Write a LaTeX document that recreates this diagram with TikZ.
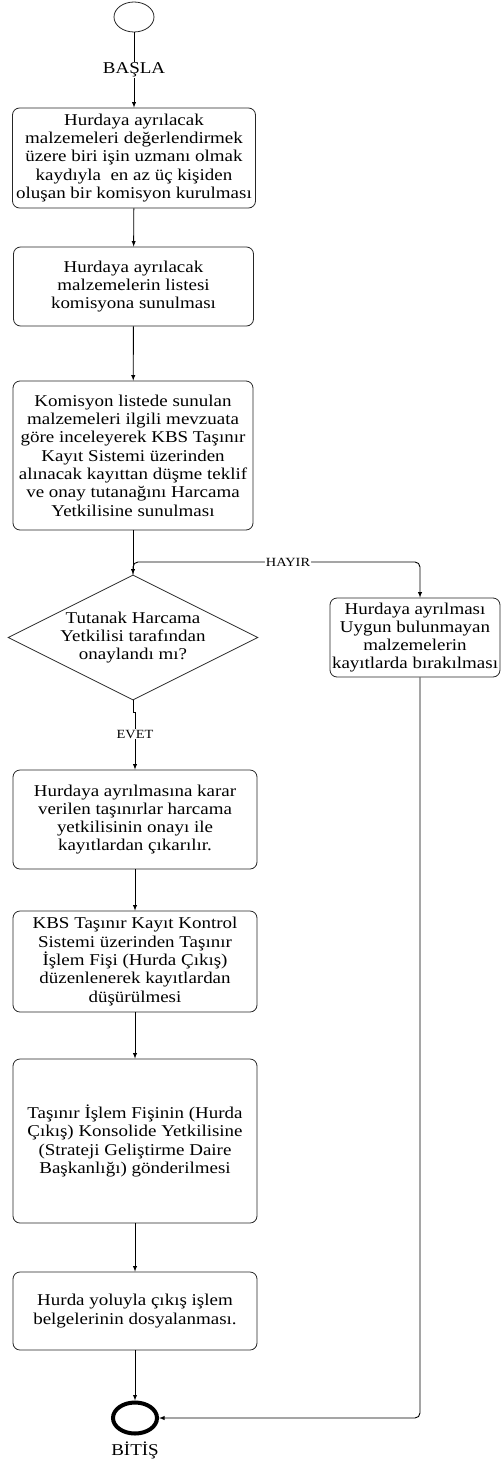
\documentclass[tikz,border=0pt]{standalone}
\usepackage{fontspec}
\setmainfont{Liberation Serif}[FakeStretch=1.15]
\usetikzlibrary{positioning,shapes,arrows}

\begin{document}
\begin{tikzpicture}[x=1pt,y=1pt,auto]
    \tikzstyle{every node}=[font=\fontsize{16.5}{18.3}\selectfont,inner sep=0]
    \tikzstyle{islem}=[draw=black!85,line width=0.8,rounded corners=7,align=center,fill=white]
    \tikzstyle{karar}=[draw=black!85,line width=0.8,diamond,aspect=2,align=center,minimum width=250,minimum height=125]
    \tikzstyle{etiket}=[fill=white,inner sep=1,auto=false]
    \tikzstyle{kucuk}=[etiket,font=\fontsize{12.5}{14}\selectfont]
    \tikzstyle{ok}=[draw=black,line width=0.9,-latex]
    \useasboundingbox (0,0) rectangle (502,-1461);
    {
        % baslangic
        \node[ellipse,draw=black!85,line width=0.8,minimum width=40,minimum height=30] (basla) at (134,-17) {};
        \node[islem,minimum width=243,minimum height=100] (k1) at (134,-158)
            {Hurdaya ayrılacak\\malzemeleri değerlendirmek\\üzere biri işin uzmanı olmak\\kaydıyla\ \ en az üç kişiden\\oluşan bir komisyon kurulması};
        \node[islem,minimum width=240,minimum height=79] (k2) at (133.5,-286.5)
            {Hurdaya ayrılacak\\malzemelerin listesi\\komisyona sunulması};
        \node[islem,minimum width=240,minimum height=149] (k3) at (133,-455.5)
            {Komisyon listede sunulan\\malzemeleri ilgili mevzuata\\göre inceleyerek KBS Taşınır\\Kayıt Sistemi üzerinden\\alınacak kayıttan düşme teklif\\ve onay tutanağını Harcama\\Yetkilisine sunulması};
        \node[karar] (karar) at (133,-637.5)
            {Tutanak Harcama\\Yetkilisi tarafından\\onaylandı mı?};
        \node[islem,minimum width=170,minimum height=79] (red) at (415,-637.5)
            {Hurdaya ayrılması\\Uygun bulunmayan\\malzemelerin\\kayıtlarda bırakılması};
        \node[islem,minimum width=244,minimum height=99] (k4) at (135,-819.5)
            {Hurdaya ayrılmasına karar\\verilen taşınırlar harcama\\yetkilisinin onayı ile\\kayıtlardan çıkarılır.};
        \node[islem,minimum width=244,minimum height=101] (k5) at (135,-961.5)
            {KBS Taşınır Kayıt Kontrol\\Sistemi üzerinden Taşınır\\İşlem Fişi (Hurda Çıkış)\\düzenlenerek kayıtlardan\\düşürülmesi};
        \node[islem,minimum width=244,minimum height=164] (k6) at (135,-1141)
            {Taşınır İşlem Fişinin (Hurda\\Çıkış) Konsolide Yetkilisine\\(Strateji Geliştirme Daire\\Başkanlığı) gönderilmesi};
        \node[islem,minimum width=244,minimum height=78] (k7) at (135,-1311)
            {Hurda yoluyla çıkış işlem\\belgelerinin dosyalanması.};
        % bitis
        \node[ellipse,draw=black,line width=4,minimum width=44,minimum height=31] (bitis) at (135,-1418) {};
        \node (bitisyazi) at (135,-1450) {BİTİŞ};
        \coordinate (ayrim) at (133,-562);

        \draw[ok] (basla) -- (k1) node[etiket,midway] {BAŞLA};
        \draw[ok] (k1) -- (k2);
        \draw[ok] (k2) -- (k3);
        \draw[ok] (k3.south) -- (karar.north);
        \draw[ok,rounded corners=5] (karar.north) -- (ayrim) -| ([xshift=5]red.north)
            node[kucuk,pos=0.27] {HAYIR};
        \draw[ok] (karar.south) -- ++(0,-12) -| (k4.north)
            node[kucuk,pos=0.69] {EVET};
        \draw[ok] (k4) -- (k5);
        \draw[ok] (k5) -- (k6);
        \draw[ok] (k6) -- (k7);
        \draw[ok] (k7) -- (bitis);
        \draw[ok,rounded corners=5] ([xshift=5]red.south) |- (bitis.east);
    }
\end{tikzpicture}
\end{document}
